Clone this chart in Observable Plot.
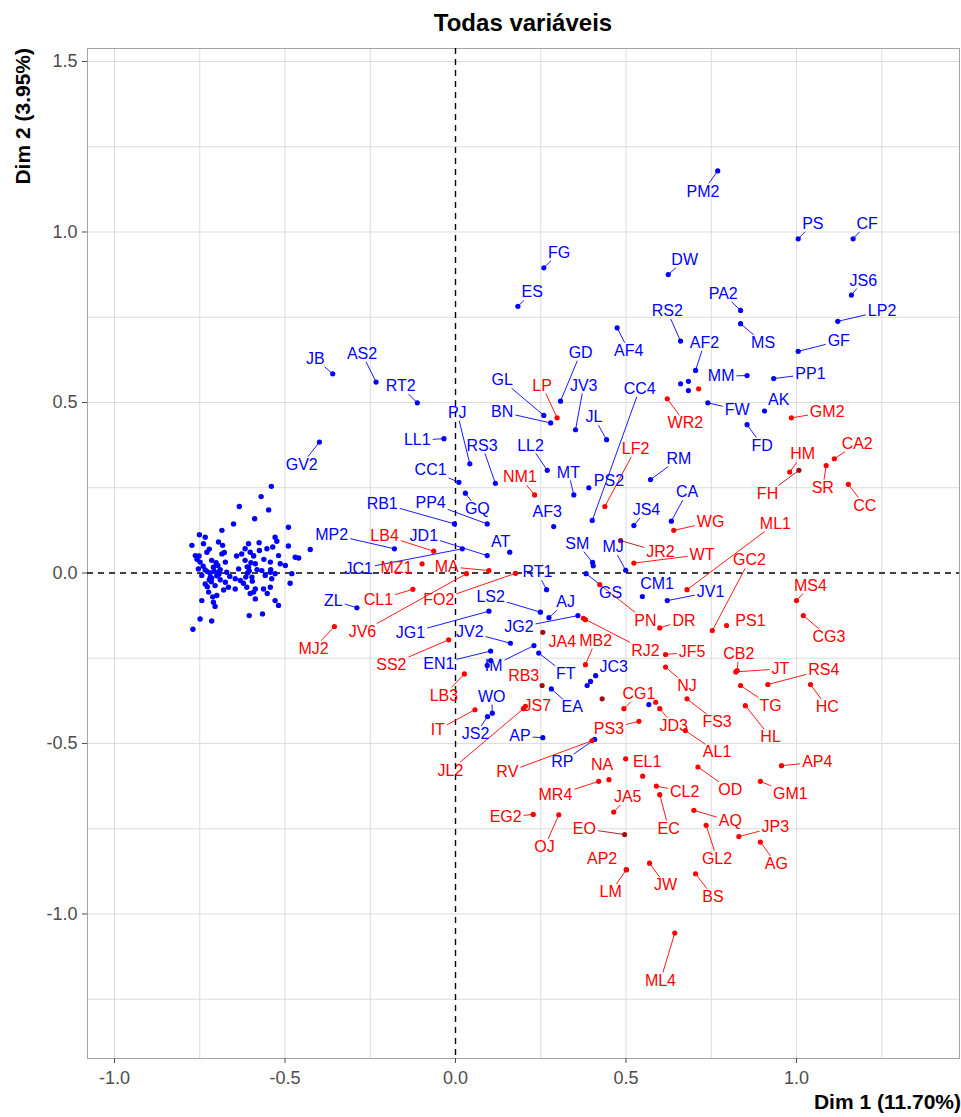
<!DOCTYPE html>
<html><head><meta charset="utf-8">
<script src="https://cdn.jsdelivr.net/npm/d3@7"></script>
<script src="https://cdn.jsdelivr.net/npm/@observablehq/plot@0.6"></script>
<style>
body{margin:0;background:#fff;font-family:"Liberation Sans",Arial,Helvetica,sans-serif;}
#title{position:absolute;left:0;top:8px;width:1046px;text-align:center;font-weight:bold;font-size:24px;line-height:30px;color:#000;}
#chart{position:absolute;left:0;top:40px;}
</style></head><body>
<div id="title">Todas variáveis</div>
<div id="chart"></div>
<script>
// ---------- data (in data units) ----------
const labName = ["PM2","PS","CF","FG","ES","DW","JS6","PA2","MS","RS2","AF2","AF4","GF","LP2","PP1","MM","GD","JV3","GL","BN","CC4","AK","JB","AS2","RT2","GV2","FW","FD","PJ","LL1","RS3","CC1","LL2","MT","JL","PS2","RM","CA","JS4","GQ","AF3","AT","RB1","PP4","SM","MJ","MP2","JD1","JC1","RT1","ZL","LS2","AJ","JG1","JV2","JG2","EN1","IM","FT","EA","WO","JS2","AP","RP","GS","CM1","JV1","JC3",
"LP","WR2","GM2","HM","FH","CA2","SR","CC","ML1","NM1","LF2","WG","JR2","WT","GC2","DR","PS1","PN","RJ2","MB2","JA4","JF5","NJ","FS3","CB2","JT","RS4","TG","HL","MS4","CG3","HC","AP4","CG1","JD3","AL1","PS3","EL1","NA","MR4","JA5","EG2","OJ","EO","AP2","LM","JW","ML4","CL2","EC","OD","GM1","AQ","GL2","JP3","AG","BS","LB4","MZ1","MA","FO2","CL1","JV6","MJ2","SS2","LB3","RB3","IT","JS7","JL2","RV"];
const labGroup = ["b","b","b","b","b","b","b","b","b","b","b","b","b","b","b","b","b","b","b","b","b","b","b","b","b","b","b","b","b","b","b","b","b","b","b","b","b","b","b","b","b","b","b","b","b","b","b","b","b","b","b","b","b","b","b","b","b","b","b","b","b","b","b","b","b","b","b","b",
"r","r","r","r","d","r","r","r","r","r","r","r","d","r","r","r","r","r","r","r","d","r","r","r","r","r","r","r","r","r","r","r","r","r","r","r","r","r","r","r","r","r","r","d","r","r","r","r","r","r","r","r","r","r","r","r","r","r","r","r","r","r","r","r","r","r","d","r","r","r","r","r"];
const ptX = [0.769,1.005,1.166,0.259,0.183,0.624,1.161,0.836,0.836,0.660,0.704,0.474,1.005,1.121,0.933,0.855,0.308,0.352,0.259,0.279,0.401,0.906,-0.360,-0.233,-0.112,-0.399,0.740,0.855,0.042,-0.034,0.117,0.010,0.269,0.347,0.443,0.391,0.572,0.633,0.523,0.029,0.288,0.159,-0.003,0.093,0.402,0.499,-0.179,0.093,0.020,0.267,-0.289,0.249,0.274,0.098,0.161,0.359,0.103,0.230,0.244,0.281,0.108,0.094,0.256,0.408,0.383,0.548,0.621,0.411,
0.298,0.621,0.985,0.980,1.007,1.111,1.087,1.152,0.679,0.232,0.438,0.640,0.484,0.523,0.753,0.599,0.795,0.423,0.375,0.381,0.256,0.616,0.616,0.679,0.826,0.822,0.916,0.836,0.850,1.000,1.020,1.041,0.956,0.494,0.599,0.674,0.538,0.499,0.450,0.420,0.464,0.228,0.303,0.496,0.501,0.501,0.569,0.643,0.589,0.599,0.711,0.894,0.699,0.735,0.831,0.894,0.704,-0.064,-0.098,0.098,0.176,-0.125,0.032,-0.355,-0.020,0.026,0.254,0.057,0.205,0.199,0.400];
const ptY = [1.179,0.980,0.980,0.895,0.782,0.875,0.815,0.770,0.731,0.680,0.594,0.719,0.650,0.738,0.570,0.579,0.504,0.420,0.462,0.440,0.154,0.475,0.584,0.560,0.499,0.384,0.499,0.435,0.320,0.394,0.263,0.266,0.301,0.229,0.391,0.250,0.274,0.152,0.139,0.234,0.136,0.061,0.144,0.144,0.031,0.008,0.071,0.051,0.071,-0.049,-0.102,-0.115,-0.131,-0.112,-0.206,-0.125,-0.229,-0.213,-0.235,-0.340,-0.411,-0.421,-0.483,-0.488,-0.002,-0.069,-0.081,-0.301,
0.455,0.511,0.455,0.296,0.301,0.335,0.315,0.260,-0.049,0.229,0.195,0.125,0.095,0.029,-0.169,-0.161,-0.154,-0.034,-0.133,-0.269,-0.174,-0.239,-0.276,-0.369,-0.286,-0.290,-0.327,-0.330,-0.389,-0.081,-0.125,-0.327,-0.565,-0.398,-0.398,-0.462,-0.435,-0.545,-0.606,-0.611,-0.701,-0.708,-0.709,-0.767,-0.870,-0.870,-0.851,-1.056,-0.625,-0.650,-0.569,-0.611,-0.696,-0.740,-0.773,-0.789,-0.882,0.064,0.027,0.007,-0.001,-0.048,-0.002,-0.157,-0.196,-0.296,-0.330,-0.401,-0.391,-0.398,-0.492];
const txtX = [0.726,1.048,1.207,0.304,0.225,0.672,1.196,0.785,0.902,0.621,0.730,0.508,1.124,1.251,1.041,0.779,0.367,0.376,0.137,0.137,0.540,0.948,-0.411,-0.274,-0.161,-0.451,0.826,0.899,0.005,-0.112,0.078,-0.073,0.220,0.331,0.406,0.450,0.655,0.679,0.560,0.064,0.269,0.132,-0.215,-0.073,0.357,0.462,-0.363,-0.093,-0.284,0.240,-0.358,0.103,0.323,-0.132,0.042,0.186,-0.049,0.112,0.323,0.342,0.106,0.059,0.189,0.313,0.455,0.591,0.748,0.464,
0.254,0.674,1.090,1.018,0.915,1.178,1.077,1.200,0.938,0.189,0.528,0.748,0.601,0.723,0.862,0.670,0.865,0.557,0.557,0.411,0.313,0.694,0.679,0.767,0.831,0.953,1.080,0.924,0.924,1.041,1.095,1.090,1.061,0.538,0.640,0.767,0.450,0.562,0.430,0.293,0.505,0.147,0.261,0.378,0.430,0.455,0.616,0.601,0.672,0.625,0.806,0.982,0.806,0.767,0.938,0.941,0.755,-0.208,-0.173,-0.026,-0.049,-0.226,-0.273,-0.416,-0.188,-0.034,0.200,-0.052,0.240,-0.015,0.152];
const txtY = [1.119,1.024,1.024,0.939,0.823,0.919,0.858,0.819,0.675,0.768,0.675,0.652,0.680,0.768,0.584,0.577,0.646,0.550,0.565,0.472,0.540,0.509,0.628,0.643,0.548,0.318,0.479,0.374,0.470,0.389,0.374,0.301,0.374,0.295,0.457,0.271,0.335,0.237,0.185,0.188,0.178,0.090,0.204,0.205,0.086,0.076,0.113,0.110,0.012,0.002,-0.081,-0.071,-0.086,-0.175,-0.174,-0.159,-0.266,-0.271,-0.296,-0.394,-0.362,-0.472,-0.479,-0.555,-0.059,-0.032,-0.056,-0.276,
0.550,0.439,0.472,0.348,0.233,0.379,0.250,0.198,0.145,0.281,0.364,0.149,0.061,0.054,0.037,-0.139,-0.139,-0.139,-0.227,-0.198,-0.203,-0.232,-0.330,-0.438,-0.237,-0.281,-0.284,-0.389,-0.482,-0.037,-0.188,-0.394,-0.555,-0.354,-0.447,-0.526,-0.457,-0.555,-0.562,-0.652,-0.657,-0.716,-0.804,-0.750,-0.838,-0.936,-0.916,-1.195,-0.641,-0.749,-0.636,-0.648,-0.728,-0.838,-0.745,-0.853,-0.949,0.110,0.016,0.019,-0.079,-0.078,-0.172,-0.222,-0.268,-0.359,-0.301,-0.460,-0.391,-0.579,-0.584];

// unlabeled points outside the left cloud
const extraX = [0.386,0.396,0.567,0.660,0.683,0.683,0.093,0.103,0.404,0.713,0.381,0.587,0.549,0.430];
const extraY = [-0.330,-0.318,-0.386,0.555,0.562,0.535,-0.271,-0.257,0.021,0.540,-0.137,-0.379,-0.596,-0.369];
const extraGroup = ["b","b","b","b","b","b","b","b","b","r","r","r","r","d"];

// left cloud of unlabeled points
const cloudX = [-0.540,-0.570,-0.634,-0.548,-0.589,-0.651,-0.685,-0.490,-0.751,-0.734,-0.529,-0.524,-0.576,-0.490,-0.426,-0.773,-0.739,-0.695,-0.683,-0.607,-0.617,-0.553,-0.536,-0.763,-0.729,-0.685,-0.627,-0.602,-0.592,-0.519,-0.470,-0.460,-0.749,-0.715,-0.675,-0.617,-0.587,-0.543,-0.514,-0.499,-0.754,-0.734,-0.710,-0.695,-0.671,-0.636,-0.607,-0.568,-0.543,-0.529,-0.480,-0.744,-0.719,-0.690,-0.675,-0.646,-0.631,-0.597,-0.558,-0.539,-0.485,-0.734,-0.705,-0.666,-0.646,-0.612,-0.587,-0.563,-0.543,-0.724,-0.700,-0.592,-0.744,-0.710,-0.705,-0.587,-0.529,-0.519,-0.605,-0.566,-0.749,-0.715,-0.770,
-0.720,-0.700,-0.722,-0.690,-0.740,-0.702,-0.728,-0.680,-0.600,-0.610,-0.622,-0.592,-0.602,-0.582,-0.642,-0.662,-0.752,-0.758,-0.722,-0.712,-0.552,-0.562,-0.542,-0.708,-0.715,-0.697,-0.605,-0.615,-0.678,-0.728,-0.716,-0.694,-0.611,-0.596,-0.575];
const cloudY = [0.254,0.224,0.195,0.185,0.159,0.144,0.125,0.134,0.112,0.105,0.105,0.093,0.089,0.079,0.069,0.081,0.086,0.091,0.081,0.086,0.071,0.071,0.076,0.051,0.061,0.056,0.056,0.061,0.051,0.051,0.046,0.044,0.032,0.037,0.032,0.037,0.027,0.032,0.027,0.022,0.012,0.009,0.017,0.002,0.002,0.012,0.017,0.007,0.002,-0.002,-0.002,-0.007,-0.012,-0.020,-0.027,-0.017,-0.022,-0.012,-0.007,-0.017,-0.030,-0.032,-0.037,-0.042,-0.047,-0.042,-0.047,-0.047,-0.042,-0.056,-0.066,-0.056,-0.081,-0.086,-0.098,-0.076,-0.081,-0.095,-0.125,-0.120,-0.135,-0.141,-0.165,
0.000,-0.008,-0.020,0.010,0.020,0.030,-0.040,-0.050,0.030,0.000,-0.030,0.050,-0.060,0.010,0.050,-0.010,0.050,0.040,0.070,-0.070,-0.060,0.040,0.010,0.005,-0.015,0.022,0.006,-0.012,0.060,0.004,-0.026,-0.004,0.018,-0.024,0.066];

// axes
const xTicks = [-1, -0.5, 0, 0.5, 1];
const xTickLabels = ["-1.0", "-0.5", "0.0", "0.5", "1.0"];
const yTicks = [-1, -0.5, 0, 0.5, 1, 1.5];
const yTickLabels = ["-1.0", "-0.5", "0.0", "0.5", "1.0", "1.5"];
const xGrid = [-1, -0.75, -0.5, -0.25, 0.25, 0.5, 0.75, 1, 1.25];
const yGrid = [-1.25, -1, -0.75, -0.5, -0.25, 0.25, 0.5, 0.75, 1, 1.25, 1.5];
const xDomain = [-1.0792, 1.4780];
const yDomain = [-1.4238, 1.5381];
const xTitle = "Dim 1 (11.70%)";
const yTitle = "Dim 2 (3.95%)";

// ---------- build ----------
const COL = {b: "#0000FF", r: "#FF0000", d: "#A01010"};
const TXTCOL = {b: "#0000FF", r: "#FF0000", d: "#FF0000"};
const FONT = '"Liberation Sans", Arial, Helvetica, sans-serif';
const LABEL_SIZE = 16;

const W = 961, H = 1077, mt = 8, mr = 2, mb = 59, ml = 87;
const kx = (W - ml - mr) / (xDomain[1] - xDomain[0]);
const ky = (H - mt - mb) / (yDomain[1] - yDomain[0]);

const labels = labName.map((n, i) => ({name: n, g: labGroup[i], x: ptX[i], y: ptY[i], tx: txtX[i], ty: txtY[i]}));
const extras = extraX.map((x, i) => ({x, y: extraY[i], g: extraGroup[i]}));
const cloud = cloudX.map((x, i) => ({x, y: cloudY[i]}));

const ctx = document.createElement("canvas").getContext("2d");
ctx.font = `${LABEL_SIZE}px ${FONT}`;
const segs = [];
for (const d of labels) {
  const hw = ctx.measureText(d.name).width / 2 + 2;
  const hh = LABEL_SIZE * 0.5;
  const dxp = (d.x - d.tx) * kx, dyp = (d.y - d.ty) * ky;
  if (Math.abs(dxp) <= hw && Math.abs(dyp) <= hh) continue;
  const t = Math.min(dxp === 0 ? Infinity : hw / Math.abs(dxp), dyp === 0 ? Infinity : hh / Math.abs(dyp));
  const len = Math.hypot(dxp, dyp) * (1 - t);
  if (len < 8) continue;
  segs.push({x: d.x, y: d.y, ex: d.tx + t * (d.x - d.tx), ey: d.ty + t * (d.y - d.ty), g: d.g});
}

const plot = Plot.plot({
  width: W, height: H,
  marginTop: mt, marginRight: mr, marginBottom: mb, marginLeft: ml,
  x: {domain: xDomain},
  y: {domain: yDomain},
  style: {fontFamily: FONT, background: "white", overflow: "visible"},
  marks: [
    Plot.ruleX(xGrid, {stroke: "#dcdcdc", strokeWidth: 1}),
    Plot.ruleY(yGrid, {stroke: "#dcdcdc", strokeWidth: 1}),
    Plot.frame({stroke: "#a3a3a3", strokeWidth: 1}),
    Plot.ruleX([0], {stroke: "#000", strokeDasharray: "6,5", strokeWidth: 1.4}),
    Plot.ruleY([0], {stroke: "#000", strokeDasharray: "6,5", strokeWidth: 1.4}),
    Plot.link(segs, {x1: "x", y1: "y", x2: "ex", y2: "ey", stroke: d => COL[d.g], strokeWidth: 0.9}),
    Plot.dot(cloud, {x: "x", y: "y", r: 2.7, fill: COL.b, stroke: "none"}),
    Plot.dot(extras, {x: "x", y: "y", r: 2.6, fill: d => COL[d.g], stroke: "none"}),
    Plot.dot(labels, {x: "x", y: "y", r: 2.6, fill: d => COL[d.g], stroke: "none"}),
    Plot.text(labels, {x: "tx", y: "ty", text: "name", fill: d => TXTCOL[d.g], fontSize: LABEL_SIZE}),
    Plot.axisX({ticks: xTicks, tickFormat: (d) => xTickLabels[xTicks.indexOf(d)], tickSize: 5, tickPadding: 8, fontSize: 18, color: "#4d4d4d", label: null}),
    Plot.axisY({ticks: yTicks, tickFormat: (d) => yTickLabels[yTicks.indexOf(d)], tickSize: 5, tickPadding: 5, fontSize: 18, color: "#4d4d4d", label: null})
  ]
});
document.getElementById("chart").appendChild(plot);

const svg = d3.select(plot);
svg.append("text")
  .attr("transform", `translate(23,${mt}) rotate(-90)`)
  .attr("text-anchor", "end").attr("dy", "0.35em")
  .style("font-family", FONT).style("font-weight", "bold").style("font-size", "21px").attr("fill", "#000")
  .text(yTitle);
svg.append("text")
  .attr("x", W).attr("y", H - 8)
  .attr("text-anchor", "end")
  .style("font-family", FONT).style("font-weight", "bold").style("font-size", "21px").attr("fill", "#000")
  .text(xTitle);
</script>
</body></html>
